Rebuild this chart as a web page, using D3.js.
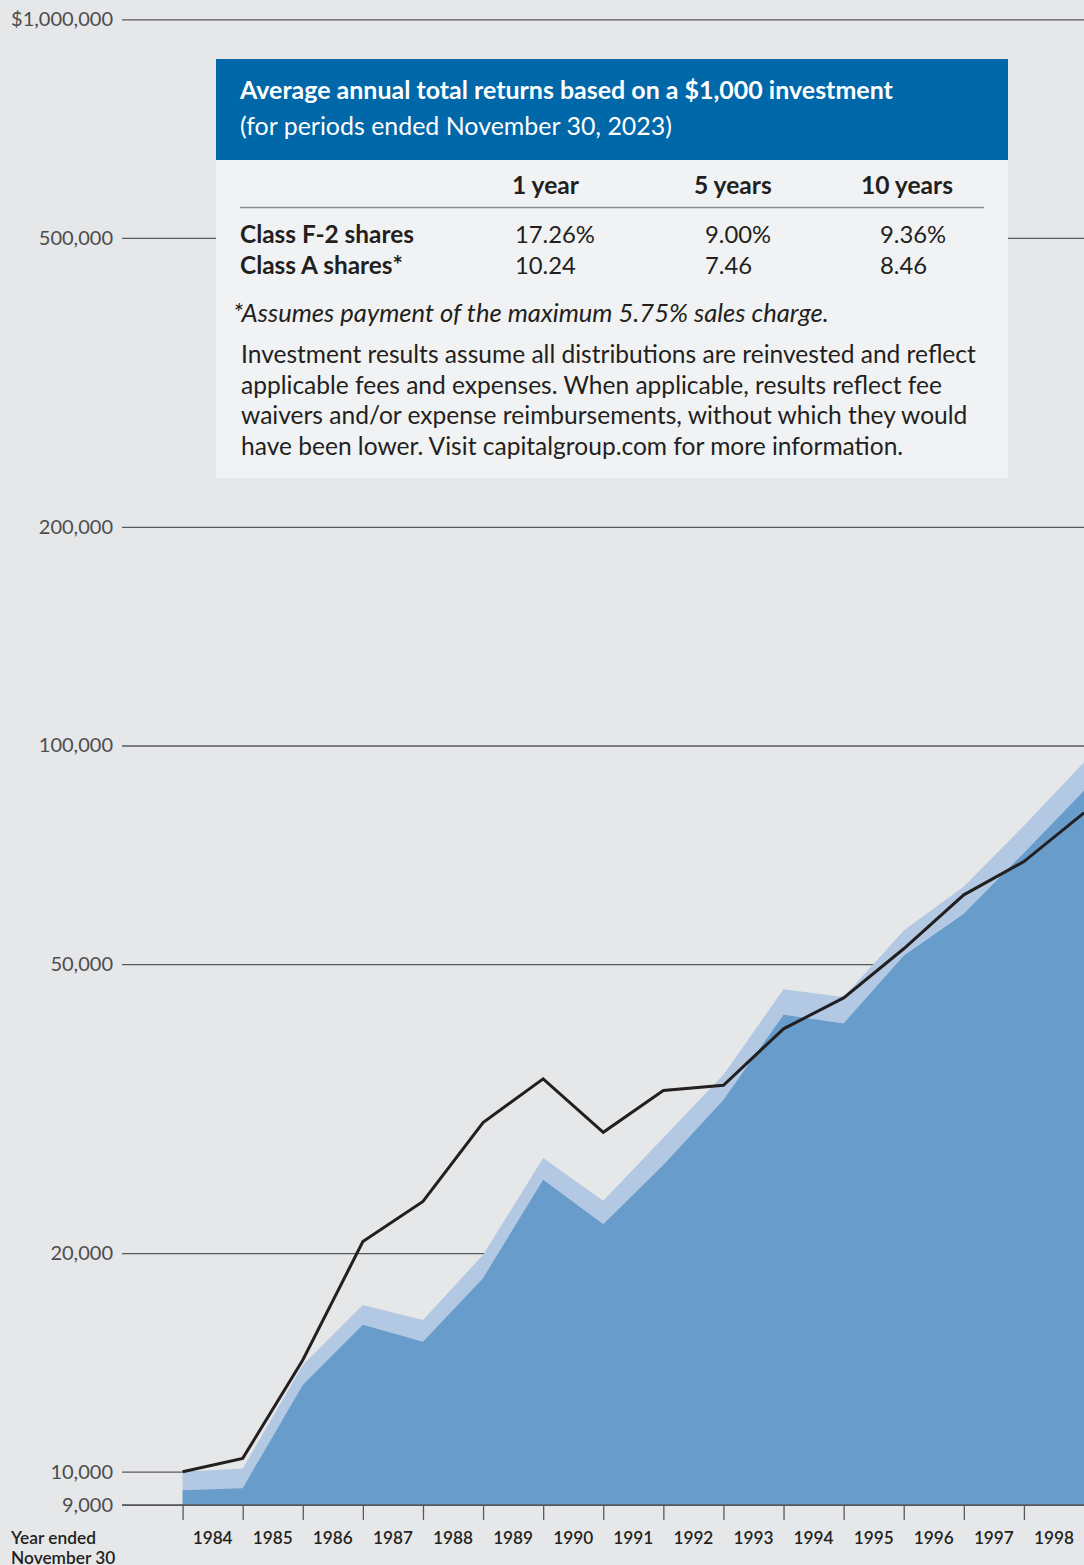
<!DOCTYPE html>
<html>
<head>
<meta charset="utf-8">
<script src="https://cdn.jsdelivr.net/npm/d3@7"></script>
<style>
  body { margin: 0; background: #e6e7e9; }
  svg { display: block; font-family: Lato, 'Noto Sans', sans-serif; }
</style>
</head>
<body>
<svg id="chart"></svg>
<script>
// point dates: start value plus each year ended November 30
const pointYears = [1983, 1984, 1985, 1986, 1987, 1988, 1989, 1990, 1991, 1992, 1993, 1994, 1995, 1996, 1997, 1998];
const yearLabels = ['1984', '1985', '1986', '1987', '1988', '1989', '1990', '1991', '1992', '1993', '1994', '1995', '1996', '1997', '1998'];
const tickYears = [1983, 1984, 1985, 1986, 1987, 1988, 1989, 1990, 1991, 1992, 1993, 1994, 1995, 1996, 1997];

// values (log scale)
const withoutSalesCharge = [10000, 10100, 14030, 16970, 16180, 19890, 27030, 23610, 28820, 35190, 46180, 45060, 55620, 63940, 77520, 94810];
const withSalesCharge = [9425, 9490, 13160, 15930, 15100, 18470, 25230, 21910, 26450, 32500, 42570, 41430, 51340, 58650, 71140, 86620];
const indexLine = [10000, 10430, 14250, 20740, 23560, 30250, 34750, 29330, 33480, 34050, 40720, 44920, 52490, 62280, 69210, 80780];

const yTicks = [9000, 10000, 20000, 50000, 100000, 200000, 500000, 1000000];

// returns table
const tableTitle = 'Average annual total returns based on a $1,000 investment';
const tableSubtitle = '(for periods ended November 30, 2023)';
const tableCols = ['1 year', '5 years', '10 years'];
const tableRows = ['Class F-2 shares', 'Class A shares*'];
const tableValues = [['17.26%', '9.00%', '9.36%'], ['10.24', '7.46', '8.46']];
const footnote = '*Assumes payment of the maximum 5.75% sales charge.';
const noteLines = [
  'Investment results assume all distributions are reinvested and reflect',
  'applicable fees and expenses. When applicable, results reflect fee',
  'waivers and/or expense reimbursements, without which they would',
  'have been lower. Visit capitalgroup.com for more information.'
];

const width = 1084, height = 1565;
const svg = d3.select('#chart').attr('width', width).attr('height', height);

const ink = '#231f20';
const gridColor = '#58595b';

// font size that makes a string span the given width
function fitSize(str, target, weight, style) {
  const t = svg.append('text')
    .attr('font-size', 20)
    .attr('font-weight', weight || 400)
    .attr('font-style', style || 'normal')
    .text(str);
  const w = t.node().getComputedTextLength();
  t.remove();
  return 20 * target / w;
}

const x = d3.scaleLinear().domain([1983, 1998]).range([182.6, 1084]);
const y = d3.scaleLog().domain([9000, 1000000]).range([1504.9, 19.3]);

// grid lines + y labels
const yLabelSize = fitSize('$1,000,000', 102);
const yAxis = svg.append('g')
  .attr('transform', 'translate(122,0)')
  .call(d3.axisLeft(y)
    .tickValues(yTicks)
    .tickSize(-(width - 122))
    .tickPadding(9)
    .tickFormat(d => (d === 1000000 ? '$' : '') + d3.format(',')(d)));
yAxis.select('.domain').remove();
yAxis.selectAll('.tick line').attr('stroke', gridColor).attr('stroke-width', 1.3);
yAxis.selectAll('.tick text')
  .attr('fill', '#4d4d4f')
  .attr('font-size', yLabelSize)
  .attr('font-family', 'Lato, sans-serif');

// returns table box
const box = svg.append('g');
box.append('rect').attr('x', 216).attr('y', 59).attr('width', 792).attr('height', 419).attr('fill', '#f1f2f3');
box.append('rect').attr('x', 216).attr('y', 59).attr('width', 792).attr('height', 101).attr('fill', '#0067a8');

const titleSize = fitSize(tableTitle, 653, 700);
box.append('text').attr('x', 240).attr('y', 99)
  .attr('font-size', titleSize).attr('font-weight', 700).attr('fill', '#fff')
  .text(tableTitle);
const subSize = fitSize(tableSubtitle, 432, 400);
box.append('text').attr('x', 240).attr('y', 135)
  .attr('font-size', subSize).attr('fill', '#fff')
  .text(tableSubtitle);

const colHeadX = [512, 694, 861];
const colValX = [515, 705, 880];
const headSize = fitSize('10 years', 92, 700);
box.selectAll('.colhead').data(tableCols).join('text')
  .attr('class', 'colhead')
  .attr('x', (d, i) => colHeadX[i]).attr('y', 194)
  .attr('font-size', headSize).attr('font-weight', 700).attr('fill', ink)
  .text(d => d);
box.append('line').attr('x1', 240).attr('x2', 984).attr('y1', 207.5).attr('y2', 207.5)
  .attr('stroke', '#8a8b8d').attr('stroke-width', 1.5);

const rowSize = fitSize('Class F-2 shares', 174, 700);
const valSize = fitSize('17.26%', 80, 400);
const rowY = [243, 274];
tableRows.forEach((r, i) => {
  box.append('text').attr('x', 240).attr('y', rowY[i])
    .attr('font-size', rowSize).attr('font-weight', 700).attr('fill', ink)
    .text(r);
  box.selectAll('.val' + i).data(tableValues[i]).join('text')
    .attr('class', 'val' + i)
    .attr('x', (d, j) => colValX[j]).attr('y', rowY[i])
    .attr('font-size', valSize).attr('fill', ink)
    .text(d => d);
});

const footSize = fitSize(footnote, 596, 400, 'italic');
box.append('text').attr('x', 233).attr('y', 322)
  .attr('font-size', footSize).attr('font-style', 'italic').attr('fill', ink)
  .text(footnote);

const noteSize = fitSize(noteLines[0], 735, 400);
box.selectAll('.note').data(noteLines).join('text')
  .attr('class', 'note')
  .attr('x', 241).attr('y', (d, i) => 363 + i * 30.5)
  .attr('font-size', noteSize).attr('fill', ink)
  .text(d => d);

// areas
const area = d3.area()
  .x((d, i) => x(pointYears[i]))
  .y0(y(9000))
  .y1(d => y(d));

svg.append('path').datum(withoutSalesCharge)
  .attr('fill', '#b3c9e3')
  .attr('d', area);
svg.append('path').datum(withSalesCharge)
  .attr('fill', '#689cca')
  .attr('d', area);

// index line
svg.append('path').datum(indexLine)
  .attr('fill', 'none')
  .attr('stroke', ink)
  .attr('stroke-width', 3)
  .attr('stroke-linejoin', 'miter')
  .attr('d', d3.line().x((d, i) => x(pointYears[i])).y(d => y(d)));

// x axis
const xAxis = svg.append('g')
  .attr('transform', 'translate(0,' + y(9000) + ')')
  .call(d3.axisBottom(x).tickValues(tickYears).tickSize(15).tickFormat(''));
xAxis.select('.domain').remove();
xAxis.selectAll('.tick line').attr('stroke', gridColor).attr('stroke-width', 1.3);
svg.append('line')
  .attr('x1', 122).attr('x2', width)
  .attr('y1', y(9000)).attr('y2', y(9000))
  .attr('stroke', gridColor).attr('stroke-width', 1.5);

const xLabelSize = fitSize('1984', 40, 600);
svg.selectAll('.xlabel').data(yearLabels).join('text')
  .attr('class', 'xlabel')
  .attr('x', d => x(+d - 0.5))
  .attr('y', 1544)
  .attr('text-anchor', 'middle')
  .attr('font-size', xLabelSize)
  .attr('font-weight', 600)
  .attr('fill', ink)
  .text(d => d);

const captionSize = fitSize('Year ended', 85, 600);
svg.selectAll('.caption').data(['Year ended', 'November 30']).join('text')
  .attr('class', 'caption')
  .attr('x', 11)
  .attr('y', (d, i) => 1544 + i * 20)
  .attr('font-size', captionSize)
  .attr('font-weight', 600)
  .attr('fill', ink)
  .text(d => d);
</script>
</body>
</html>
